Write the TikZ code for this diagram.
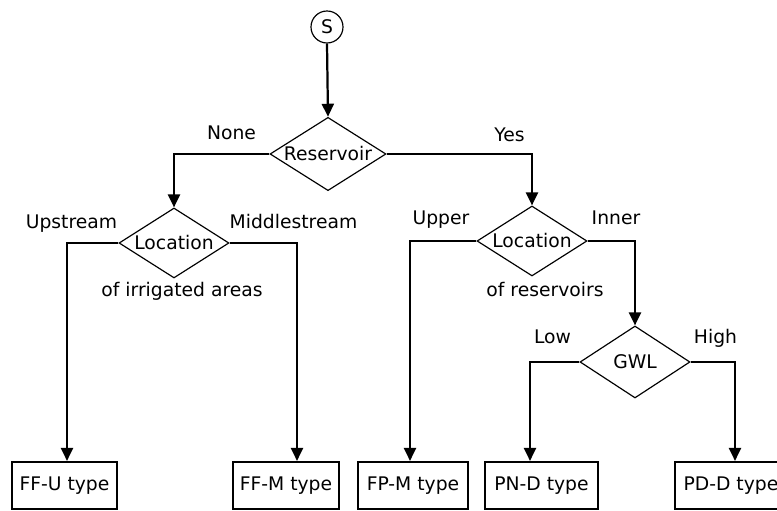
\documentclass[tikz,border=0pt]{standalone}
\usepackage{fontspec}
\setmainfont{DejaVu Sans}
\usetikzlibrary{shapes.geometric,arrows.meta}

\tikzset{
  decision/.style={diamond, draw, line width=1pt, inner sep=0pt, aspect=1.5, minimum width=3.3cm, minimum height=2.1cm},
  result/.style={rectangle, draw, line width=1.8pt, inner sep=0pt, minimum height=1.41cm},
  flow/.style={line width=1.9pt, -{Triangle[length=3.9mm, width=3.6mm]}},
  lbl/.style={inner sep=0pt, text height=1.6ex, text depth=0.4ex}
}

\begin{document}
\begin{tikzpicture}[scale=1.0, font=\fontsize{16}{19}\selectfont]
  \useasboundingbox (0,0) rectangle (23.31,15.33);

  % start and decisions
  \node[circle, draw, line width=1pt, inner sep=0pt, minimum size=0.96cm] (start) at (9.81,14.52) {S};
  \node[decision, minimum width=3.48cm, minimum height=2.19cm] (res) at (9.84,10.71) {Reservoir};
  \node[decision] (loc1) at (5.22,8.04) {Location};
  \node[decision] (loc2) at (15.96,8.10) {Location};
  \node[decision, minimum height=2.16cm] (gwl) at (19.05,4.47) {GWL};

  % result types
  \node[result, minimum width=3.15cm] (ffu) at (1.935,0.765) {FF-U type};
  \node[result, minimum width=3.18cm] (ffm) at (8.58,0.765) {FF-M type};
  \node[result, minimum width=3.3cm] (fpm) at (12.39,0.765) {FP-M type};
  \node[result, minimum width=3.39cm] (pnd) at (16.245,0.765) {PN-D type};
  \node[result, minimum width=3.36cm] (pdd) at (21.93,0.765) {PD-D type};

  % connectors
  \draw[flow] (start.south) -- (res.north);
  \draw[flow] (res.west) -| (loc1.north);
  \draw[flow] (res.east) -| (loc2.north);
  \draw[flow] (loc1.west) -| ([xshift=0.075cm]ffu.north);
  \draw[flow] (loc1.east) -| ([xshift=0.33cm]ffm.north);
  \draw[flow] (loc2.west) -| ([xshift=-0.09cm]fpm.north);
  \draw[flow] (loc2.east) -| (gwl.north);
  \draw[flow] (gwl.west) -| ([xshift=-0.345cm]pnd.north);
  \draw[flow] (gwl.east) -| ([xshift=0.12cm]pdd.north);

  % branch labels
  \node[lbl] (none) at (6.945,11.25) {None};
  \node[lbl] (yes) at (15.285,11.19) {Yes};
  \node[lbl] (up) at (2.145,8.58) {Upstream};
  \node[lbl] (mid) at (8.805,8.58) {Middlestream};
  \node[lbl] (upper) at (13.23,8.70) {Upper};
  \node[lbl] (inner) at (18.48,8.70) {Inner};
  \node[lbl] (low) at (16.575,5.13) {Low};
  \node[lbl] (high) at (21.465,5.13) {High};
  \node[lbl] (irr) at (5.46,6.54) {of irrigated areas};
  \node[lbl] (resv) at (16.35,6.54) {of reservoirs};
\end{tikzpicture}
\end{document}
